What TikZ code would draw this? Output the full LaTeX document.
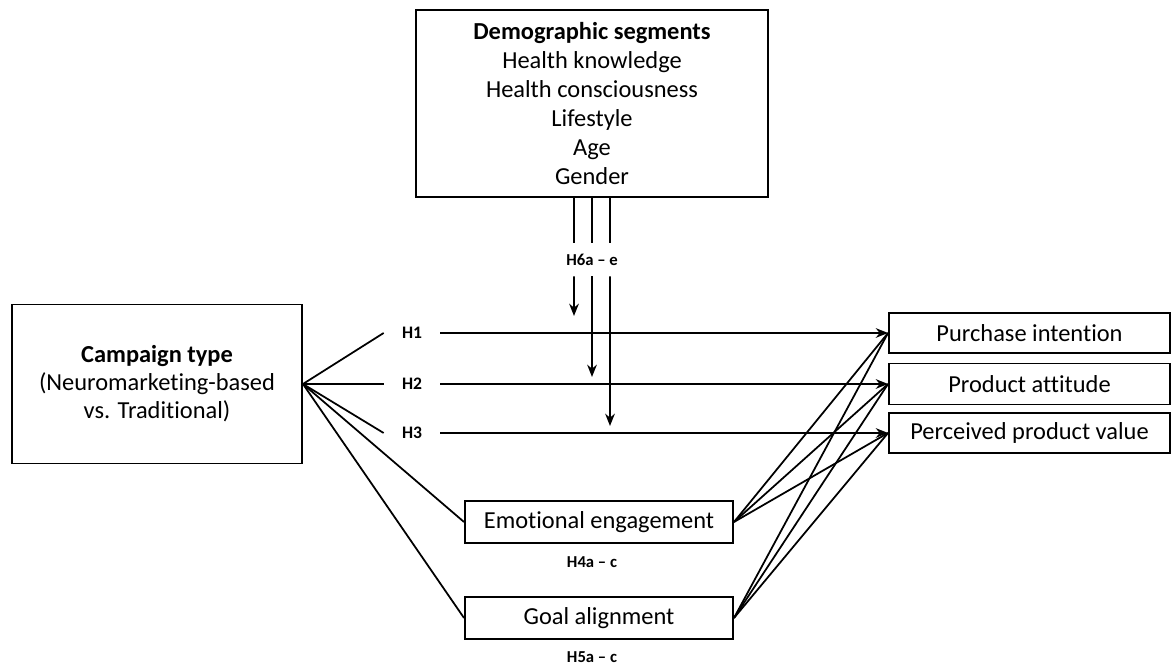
\documentclass[tikz,border=0pt]{standalone}
\usepackage{fontspec}
\setmainfont{Carlito}[Ligatures={TeX,NoCommon}]
\usetikzlibrary{arrows.meta,positioning,calc}

\tikzset{
  varbox/.style={draw,line width=1.1pt,align=center,inner sep=0pt,font=\fontsize{13.9}{16.4}\selectfont},
  hlabel/.style={font=\bfseries\fontsize{10}{12}\selectfont,inner sep=0pt,minimum width=1.12cm},
  hsmall/.style={font=\bfseries\fontsize{9.5}{11}\selectfont,inner sep=0pt},
  link/.style={line width=1pt},
  hyp/.style={line width=1pt,-{Stealth[length=7pt,width=5.5pt]}}
}

\begin{document}
\begin{tikzpicture}
\useasboundingbox (0,0) rectangle (23.42,13.32);
\node[varbox,minimum width=7.04cm,minimum height=3.74cm] (demo) at (11.84,11.25)
  {\textbf{Demographic segments}\\Health knowledge\\Health consciousness\\Lifestyle\\Age\\Gender};
\node[varbox,minimum width=5.8cm,minimum height=3.18cm,font=\fontsize{13.9}{15.9}\selectfont] (camp) at (3.14,5.64)
  {\textbf{Campaign type}\\(Neuromarketing-based\\vs. Traditional)};
\node[varbox,minimum width=5.62cm,minimum height=0.8cm] (pi) at (20.59,6.66) {Purchase intention};
\node[varbox,minimum width=5.62cm,minimum height=0.82cm] (pa) at (20.59,5.64) {Product attitude};
\node[varbox,minimum width=5.62cm,minimum height=0.8cm] (ppv) at (20.59,4.66) {Perceived product value};
\node[varbox,minimum width=5.36cm,minimum height=0.84cm] (ee) at (11.98,2.88) {Emotional engagement};
\node[varbox,minimum width=5.36cm,minimum height=0.84cm] (ga) at (11.98,0.96) {Goal alignment};
\node[hsmall] (h4) at (11.84,2.08) {H4a – c};
\node[hsmall] (h5) at (11.84,0.18) {H5a – c};
\node[hsmall,minimum height=0.66cm] (h6) at (11.84,8.13) {H6a – e};

\foreach \n/\y/\t in {1/6.66/pi,2/5.64/pa,3/4.66/ppv}{
  \node[hlabel] (h\n) at (8.24,\y) {H\n};
  \draw[link] (camp.east) -- (h\n.west);
  \draw[hyp] (h\n.east) -- (\t.west);
}
\draw[link] (camp.east) -- (ee.west);
\draw[link] (camp.east) -- (ga.west);
\foreach \t in {pi,pa,ppv}{
  \draw[link] (ee.east) -- (\t.west);
  \draw[link] (ga.east) -- (\t.west);
}

\coordinate (m1) at (11.48,7.0);
\coordinate (m2) at (11.84,5.78);
\coordinate (m3) at (12.2,4.8);
\foreach \dx/\m in {-0.36/m1,0/m2,0.36/m3}{
  \draw[link] ([xshift=\dx cm]demo.south) -- ([xshift=\dx cm]h6.north);
  \draw[hyp] ([xshift=\dx cm]h6.south) -- (\m);
}
\end{tikzpicture}
\end{document}
